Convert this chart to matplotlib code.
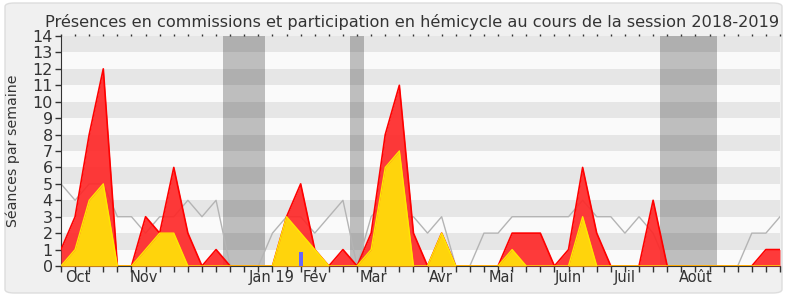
import matplotlib.pyplot as plt
from matplotlib.patches import FancyBboxPatch

# weekly values, session 2018-2019 (one point per week)
weeks = list(range(52))
commissions = [1, 3, 8, 12, 0, 0, 3, 2, 6, 2, 0, 1, 0, 0, 0, 0, 3, 5, 1, 0,
               1, 0, 2, 8, 11, 2, 0, 2, 0, 0, 0, 0, 2, 2, 2, 0, 1, 6, 2, 0,
               0, 0, 4, 0, 0, 0, 0, 0, 0, 0, 1, 1]
hemicycle = [0, 1, 4, 5, 0, 0, 1, 2, 2, 0, 0, 0, 0, 0, 0, 0, 3, 2, 1, 0,
             0, 0, 1, 6, 7, 0, 0, 2, 0, 0, 0, 0, 1, 0, 0, 0, 0, 3, 0, 0,
             0, 0, 0, 0, 0, 0, 0, 0, 0, 0, 0, 0]
median_line = [5, 4, 5, 5, 3, 3, 2, 3, 3, 4, 3, 4, 0, 0, 0, 2, 3, 3, 2, 3,
               4, 0, 3, 4, 3, 3, 2, 3, 0, 0, 2, 2, 3, 3, 3, 3, 3, 4, 3, 3,
               2, 3, 2, 0, 0, 0, 0, 0, 0, 2, 2, 3]
questions_x = [17]
questions_y = [0.87]

vacances = [(11.5, 14.5), (20.5, 21.5), (42.5, 46.5)]

mois = ['Oct', 'Nov', 'Déc', 'Jan 19', 'Fév', 'Mar', 'Avr', 'Mai', 'Juin', 'Juil', 'Août', 'Sept']
mois_pos = [1.16, 5.85, 11.0, 14.96, 18.04, 22.18, 26.97, 31.23, 35.99, 39.99, 45.03, 50.0]

fig = plt.figure(figsize=(7.9, 3.0), dpi=100)
fig.patch.set_facecolor('white')
bg = FancyBboxPatch((5 / 790, 7 / 300), 777 / 790, 290 / 300,
                    boxstyle='round,pad=0,rounding_size=0.012',
                    transform=fig.transFigure, facecolor='#f0f0f0',
                    edgecolor='#dddddd', lw=1, zorder=-10)
fig.patches.append(bg)

ax = fig.add_axes([61 / 790, 34 / 300, 719 / 790, 230 / 300])
ax.set_facecolor('#fafafa')

# bandes horizontales
for k in range(7):
    ax.axhspan(2 * k + 1, 2 * k + 2, color='#e6e6e6', lw=0, zorder=0)

# vacances parlementaires
for a, b in vacances:
    ax.axvspan(a, b, color='black', alpha=0.24, lw=0, zorder=1)

ax.plot(weeks, median_line, color='#b4b4b4', lw=1, zorder=2)
ax.fill_between(weeks, commissions, color='#ff2525', alpha=0.9, lw=0, zorder=3)
ax.plot(weeks, commissions, color='#ff0000', lw=1.2, zorder=4)
ax.fill_between(weeks, hemicycle, color='#ffd40c', lw=0, zorder=5)
ax.plot(weeks, hemicycle, color='#ffe800', lw=1, zorder=6)
ax.bar(questions_x, questions_y, width=0.3, color='#6666ff', zorder=7)

ax.set_xlim(0, 51)
ax.set_ylim(0, 14)
ax.set_yticks(range(15))
ax.tick_params(axis='y', labelsize=11.5, colors='#333333', length=4, width=1, pad=2)
ax.set_xticks(weeks)
ax.set_xticklabels([])
ax.tick_params(axis='x', which='major', length=4, width=1, colors='#333333')
ax.set_xticks(mois_pos, minor=True)
ax.set_xticklabels(mois, minor=True)
ax.tick_params(axis='x', which='minor', length=0, labelsize=10.5,
               labelcolor='#333333', pad=3)

top = ax.secondary_xaxis('top')
top.set_xticks(weeks)
top.set_xticklabels([])
top.tick_params(length=1.5, width=1, colors='#333333')
top.spines['top'].set_visible(False)

for s in ['top', 'right']:
    ax.spines[s].set_visible(False)
ax.spines['left'].set_color('#333333')
ax.spines['bottom'].set_color('#333333')

fig.text(13 / 790, 1 - 151 / 300, 'Séances par semaine', rotation=90,
         ha='center', va='center', fontsize=10.2, color='#333333')
fig.text(412 / 790, 1 - 22 / 300,
         'Présences en commissions et participation en hémicycle au cours de la session 2018-2019',
         ha='center', va='center', fontsize=11.6, color='#333333')

fig.savefig('out.png', dpi=100, facecolor=fig.get_facecolor())
